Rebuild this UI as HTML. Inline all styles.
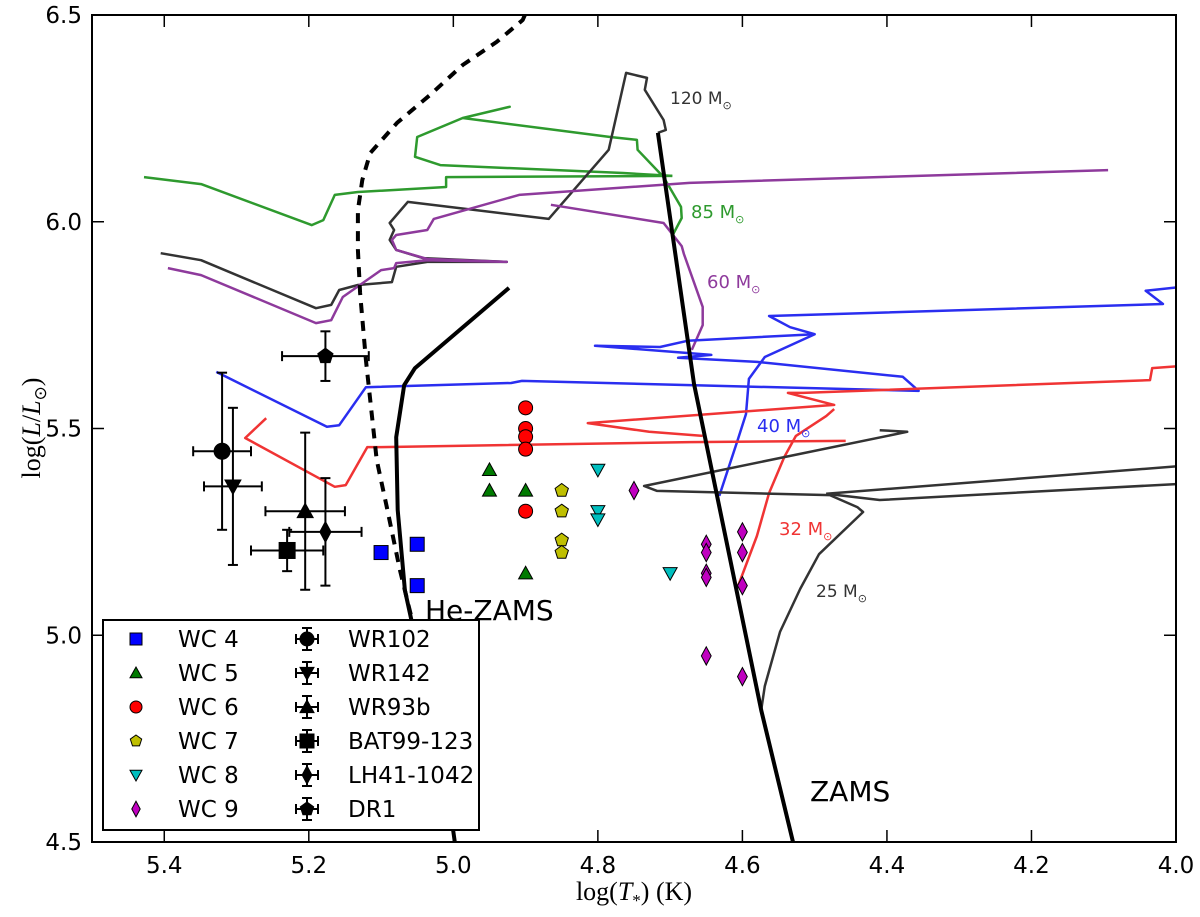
<!DOCTYPE html>
<html><head><meta charset="utf-8"><style>
html,body{margin:0;padding:0;background:#fff;}
svg{display:block;}
text{font-family:"DejaVu Sans","Liberation Sans",sans-serif;}
</style></head><body>
<svg id="chart" width="1200" height="917" viewBox="0 0 1200 917" xmlns="http://www.w3.org/2000/svg">
<defs><clipPath id="plotclip"><rect x="92" y="15" width="1084" height="827"/></clipPath></defs>
<rect x="0" y="0" width="1200" height="917" fill="#fff"/>
<g id="tracks" clip-path="url(#plotclip)"></g>
<g id="points"></g>
<g id="labels"></g>
<g id="legend"></g>
<rect x="92" y="15" width="1084" height="827" fill="none" stroke="#000" stroke-width="2"/>
<g id="axes"></g>
<text x="634" y="900" font-size="26" text-anchor="middle" style="font-family:'Liberation Serif',serif">log(<tspan font-style="italic">T</tspan><tspan font-size="17" dy="6">*</tspan><tspan dy="-6">) (K)</tspan></text>
<text transform="translate(40,428) rotate(-90)" font-size="26" text-anchor="middle" style="font-family:'Liberation Serif',serif">log(<tspan font-style="italic">L</tspan>/<tspan font-style="italic">L</tspan><tspan font-size="17" dy="6">⊙</tspan><tspan dy="-6">)</tspan></text>
</svg>
<script>
const xTicks=[5.4,5.2,5.0,4.8,4.6,4.4,4.2,4.0];
const xTickLabels=["5.4","5.2","5.0","4.8","4.6","4.4","4.2","4.0"];
const yTicks=[6.5,6.0,5.5,5.0,4.5];
const yTickLabels=["6.5","6.0","5.5","5.0","4.5"];
const zamsT=[4.717,4.667,4.574,4.530];
const zamsL=[6.215,5.608,4.819,4.500];
const heZamsT=[4.923,5.053,5.068,5.079,5.077,5.067,5.046,5.012,4.998];
const heZamsL=[5.840,5.646,5.605,5.479,5.303,5.109,4.940,4.674,4.500];
const heZamsDashT=[4.901,4.904,4.940,4.987,5.032,5.078,5.115,5.126,5.132,5.132,5.129,5.121,5.106,5.092,5.074,5.057];
const heZamsDashL=[6.500,6.488,6.435,6.379,6.307,6.239,6.166,6.101,6.028,5.932,5.828,5.666,5.424,5.310,5.158,5.037];
const track85=[[[5.428,6.108],[5.349,6.091],[5.196,5.992],[5.180,6.004],[5.164,6.065],[5.132,6.072],[5.010,6.084],[5.010,6.108],[4.697,6.111]],
[[4.697,6.111],[4.765,6.118],[5.018,6.137],[5.053,6.157],[5.050,6.205],[4.987,6.251],[4.922,6.278],[4.987,6.251],[4.783,6.205],[4.746,6.198],[4.745,6.174],[4.709,6.108],[4.685,6.036],[4.684,6.009],[4.697,5.966]]];
const track120=[[[5.405,5.924],[5.349,5.907],[5.190,5.791],[5.169,5.799],[5.158,5.835],[5.132,5.847],[5.085,5.854],[5.079,5.891],[5.036,5.903],[4.926,5.903],[5.042,5.912],[5.079,5.932],[5.088,5.956],[5.082,5.980],[5.088,5.997],[5.063,6.048],[4.868,6.007],[4.785,6.174],[4.761,6.360],[4.732,6.348],[4.735,6.319],[4.709,6.246],[4.706,6.222],[4.717,6.215]]];
const track60=[[[5.395,5.888],[5.349,5.871],[5.190,5.755],[5.169,5.762],[5.153,5.818],[5.100,5.883],[5.082,5.888],[5.079,5.900],[5.036,5.907],[4.926,5.903],[5.036,5.910],[5.079,5.932],[5.085,5.956],[5.079,5.968],[5.036,5.980],[5.027,6.007],[4.909,6.065],[4.673,6.094],[4.094,6.125]],
[[4.865,6.041],[4.709,5.997],[4.684,5.941],[4.681,5.922],[4.655,5.794],[4.655,5.750],[4.670,5.690]]];
const track40=[[[5.328,5.637],[5.175,5.504],[5.158,5.508],[5.121,5.600],[4.920,5.610],[4.905,5.615],[4.673,5.605],[4.356,5.591],[4.378,5.625],[4.580,5.661],[4.689,5.671],[4.643,5.678],[4.804,5.700],[4.714,5.697],[4.676,5.712],[4.500,5.728],[4.534,5.745],[4.563,5.772],[4.018,5.801],[4.042,5.833],[3.995,5.842]],
[[4.500,5.728],[4.569,5.673],[4.591,5.620],[4.595,5.535],[4.606,5.475],[4.632,5.337]]];
const track32=[[[5.259,5.525],[5.288,5.477],[5.164,5.359],[5.149,5.363],[5.119,5.455],[5.100,5.455],[4.673,5.467],[4.457,5.470]],
[[4.655,5.482],[4.729,5.492],[4.814,5.513],[4.473,5.557],[4.537,5.586],[4.516,5.586],[4.036,5.617],[4.033,5.646],[3.995,5.651]],
[[4.473,5.547],[4.484,5.530],[4.526,5.482],[4.542,5.431],[4.563,5.344],[4.580,5.240],[4.606,5.119]]];
const track25=[[[4.574,4.819],[4.569,4.877],[4.548,5.008],[4.520,5.112],[4.494,5.196],[4.433,5.298],[4.441,5.310],[4.479,5.339],[4.718,5.349],[4.736,5.361],[4.372,5.492],[4.410,5.496]],
[[4.484,5.342],[3.995,5.409]],[[4.484,5.342],[4.410,5.327],[3.995,5.366]]];
const wc4T=[5.10,5.05,5.05], wc4L=[5.20,5.22,5.12];
const wc5T=[4.95,4.95,4.90,4.90], wc5L=[5.40,5.35,5.35,5.15];
const wc6T=[4.90,4.90,4.90,4.90,4.90], wc6L=[5.55,5.50,5.48,5.45,5.30];
const wc7T=[4.85,4.85,4.85,4.85], wc7L=[5.35,5.30,5.23,5.20];
const wc8T=[4.80,4.80,4.80,4.70], wc8L=[5.40,5.30,5.28,5.15];
const wc9T=[4.75,4.65,4.65,4.65,4.65,4.65,4.60,4.60,4.60,4.60], wc9L=[5.35,5.22,5.20,5.15,5.14,4.95,5.25,5.20,5.12,4.90];
const starNames=["WR102","WR142","WR93b","BAT99-123","LH41-1042","DR1"];
const starT=[5.32,5.305,5.205,5.23,5.177,5.177];
const starL=[5.445,5.36,5.30,5.205,5.25,5.675];
const starTerr=[0.04,0.04,0.055,0.05,0.05,0.06];
const starLerr=[0.19,0.19,0.19,0.05,0.13,0.06];
const starMarker=["circle","tri-down","tri-up","square","diamond","pentagon"];

const NS="http://www.w3.org/2000/svg";
function X(t){return 92+(5.5-t)*722.67;}
function Y(l){return 15+(6.5-l)*413.5;}
function mk(tag,attrs,parent){const e=document.createElementNS(NS,tag);for(const k in attrs)e.setAttribute(k,attrs[k]);parent.appendChild(e);return e;}
const gT=document.getElementById('tracks'),gP=document.getElementById('points'),gLab=document.getElementById('labels'),gLeg=document.getElementById('legend'),gA=document.getElementById('axes');

function line(ts,ls,color,w,dash,name){
  const p=ts.map((t,i)=>X(t).toFixed(1)+','+Y(ls[i]).toFixed(1)).join(' ');
  const e=mk('polyline',{points:p,fill:'none',stroke:color,'stroke-width':w,'stroke-linejoin':'round'},gT);
  if(dash)e.setAttribute('stroke-dasharray',dash);
  
  
}
function track(segs,color,name){segs.forEach(s=>line(s.map(p=>p[0]),s.map(p=>p[1]),color,2.5,null,name));}
track(track85,'#2e9a2e','track-85msun');
track(track120,'#333333','track-120msun');
track(track60,'#8e3a9c','track-60msun');
track(track40,'#2a2ef0','track-40msun');
track(track32,'#f03434','track-32msun');
track(track25,'#333333','track-25msun');
line(zamsT,zamsL,'#000',4,null,'zams-line');
line(heZamsT,heZamsL,'#000',4,null,'he-zams-line');
line(heZamsDashT,heZamsDashL,'#000',4,'10,8','he-zams-dashed-line');

function marker(type,cx,cy,fill,parent,s){
  s=s||7;let e;
  if(type==='square')e=mk('rect',{x:cx-s,y:cy-s,width:2*s,height:2*s},parent);
  else if(type==='circle')e=mk('circle',{cx:cx,cy:cy,r:s},parent);
  else if(type==='tri-up')e=mk('polygon',{points:`${cx},${cy-s} ${cx+s},${cy+s*0.8} ${cx-s},${cy+s*0.8}`},parent);
  else if(type==='tri-down')e=mk('polygon',{points:`${cx},${cy+s} ${cx+s},${cy-s*0.8} ${cx-s},${cy-s*0.8}`},parent);
  else if(type==='diamond')e=mk('polygon',{points:`${cx},${cy-s*1.3} ${cx+s*0.7},${cy} ${cx},${cy+s*1.3} ${cx-s*0.7},${cy}`},parent);
  else {let pts=[];for(let i=0;i<5;i++){const a=-Math.PI/2+i*2*Math.PI/5;pts.push((cx+s*Math.cos(a)).toFixed(1)+','+(cy+s*Math.sin(a)).toFixed(1));}e=mk('polygon',{points:pts.join(' ')},parent);}
  e.setAttribute('fill',fill);e.setAttribute('stroke','#000');e.setAttribute('stroke-width','1');
  return e;
}
const groups=[[wc4T,wc4L,'square','#0000ff','wc4-point'],[wc5T,wc5L,'tri-up','#007a00','wc5-point'],[wc6T,wc6L,'circle','#ff0000','wc6-point'],[wc7T,wc7L,'pentagon','#bfbf00','wc7-point'],[wc8T,wc8L,'tri-down','#00bfbf','wc8-point'],[wc9T,wc9L,'diamond','#bf00bf','wc9-point']];
groups.forEach(g=>{g[0].forEach((t,i)=>{const e=marker(g[2],X(t),Y(g[1][i]),g[3],gP);
  
  });});

function errStar(cx,cy,dx,dy,type,parent,s){
  const g=mk('g',{stroke:'#000','stroke-width':2},parent);
  mk('line',{x1:cx-dx,y1:cy,x2:cx+dx,y2:cy},g);mk('line',{x1:cx,y1:cy-dy,x2:cx,y2:cy+dy},g);
  mk('line',{x1:cx-dx,y1:cy-5,x2:cx-dx,y2:cy+5},g);mk('line',{x1:cx+dx,y1:cy-5,x2:cx+dx,y2:cy+5},g);
  mk('line',{x1:cx-5,y1:cy-dy,x2:cx+5,y2:cy-dy},g);mk('line',{x1:cx-5,y1:cy+dy,x2:cx+5,y2:cy+dy},g);
  marker(type,cx,cy,'#000',g,s);return g;
}
starNames.forEach((n,i)=>{const cx=X(starT[i]),cy=Y(starL[i]);
  const g=errStar(cx,cy,starTerr[i]*722.67,starLerr[i]*413.5,starMarker[i],gP,8);
  
  });

const labs=[["120 M",670,104,'#333','label-120msun',17],["85 M",691,218,'#2e9a2e','label-85msun',18],["60 M",707,288,'#8e3a9c','label-60msun',18],["40 M",757,432,'#2a2ef0','label-40msun',18],["32 M",779,535,'#f03434','label-32msun',18],["25 M",816,597,'#333','label-25msun',17]];
labs.forEach(l=>{const t=mk('text',{x:l[1],y:l[2],fill:l[3],'font-size':l[5]},gLab);t.textContent=l[0];
  const s=mk('tspan',{'font-size':11,dy:5},t);s.textContent='⊙';
  
  });
const hz=mk('text',{x:425,y:620,'font-size':28,fill:'#000'},gLab);hz.textContent='He-ZAMS';


const zl=mk('text',{x:810,y:801,'font-size':28,fill:'#000'},gLab);zl.textContent='ZAMS';



const lb=mk('rect',{x:103,y:620,width:376,height:210,fill:'#fff',stroke:'#000','stroke-width':2},gLeg);


const legWC=["WC 4","WC 5","WC 6","WC 7","WC 8","WC 9"];
legWC.forEach((n,i)=>{const y=639+i*34;
  const g=mk('g',{},gLeg);
  
  
  marker(groups[i][2],136,y,groups[i][3],g,6);
  const t=mk('text',{x:178,y:y+8,'font-size':23},g);t.textContent=n;});
starNames.forEach((n,i)=>{const y=639+i*34;
  const g=mk('g',{},gLeg);
  
  
  errStar(307,y,11,11,starMarker[i],g,7);
  const t=mk('text',{x:348,y:y+8,'font-size':23},g);t.textContent=n;});

xTicks.forEach((v,i)=>{const x=X(v);
  mk('line',{x1:x,y1:842,x2:x,y2:830,stroke:'#000','stroke-width':1.5},gA);
  mk('line',{x1:x,y1:15,x2:x,y2:27,stroke:'#000','stroke-width':1.5},gA);
  const t=mk('text',{x:x,y:873,'font-size':23,'text-anchor':'middle'},gA);t.textContent=xTickLabels[i];
  
  });
yTicks.forEach((v,i)=>{const y=Y(v);
  mk('line',{x1:92,y1:y,x2:104,y2:y,stroke:'#000','stroke-width':1.5},gA);
  mk('line',{x1:1176,y1:y,x2:1164,y2:y,stroke:'#000','stroke-width':1.5},gA);
  const t=mk('text',{x:82,y:y+8,'font-size':23,'text-anchor':'end'},gA);t.textContent=yTickLabels[i];
  
  });
</script>
</body></html>
